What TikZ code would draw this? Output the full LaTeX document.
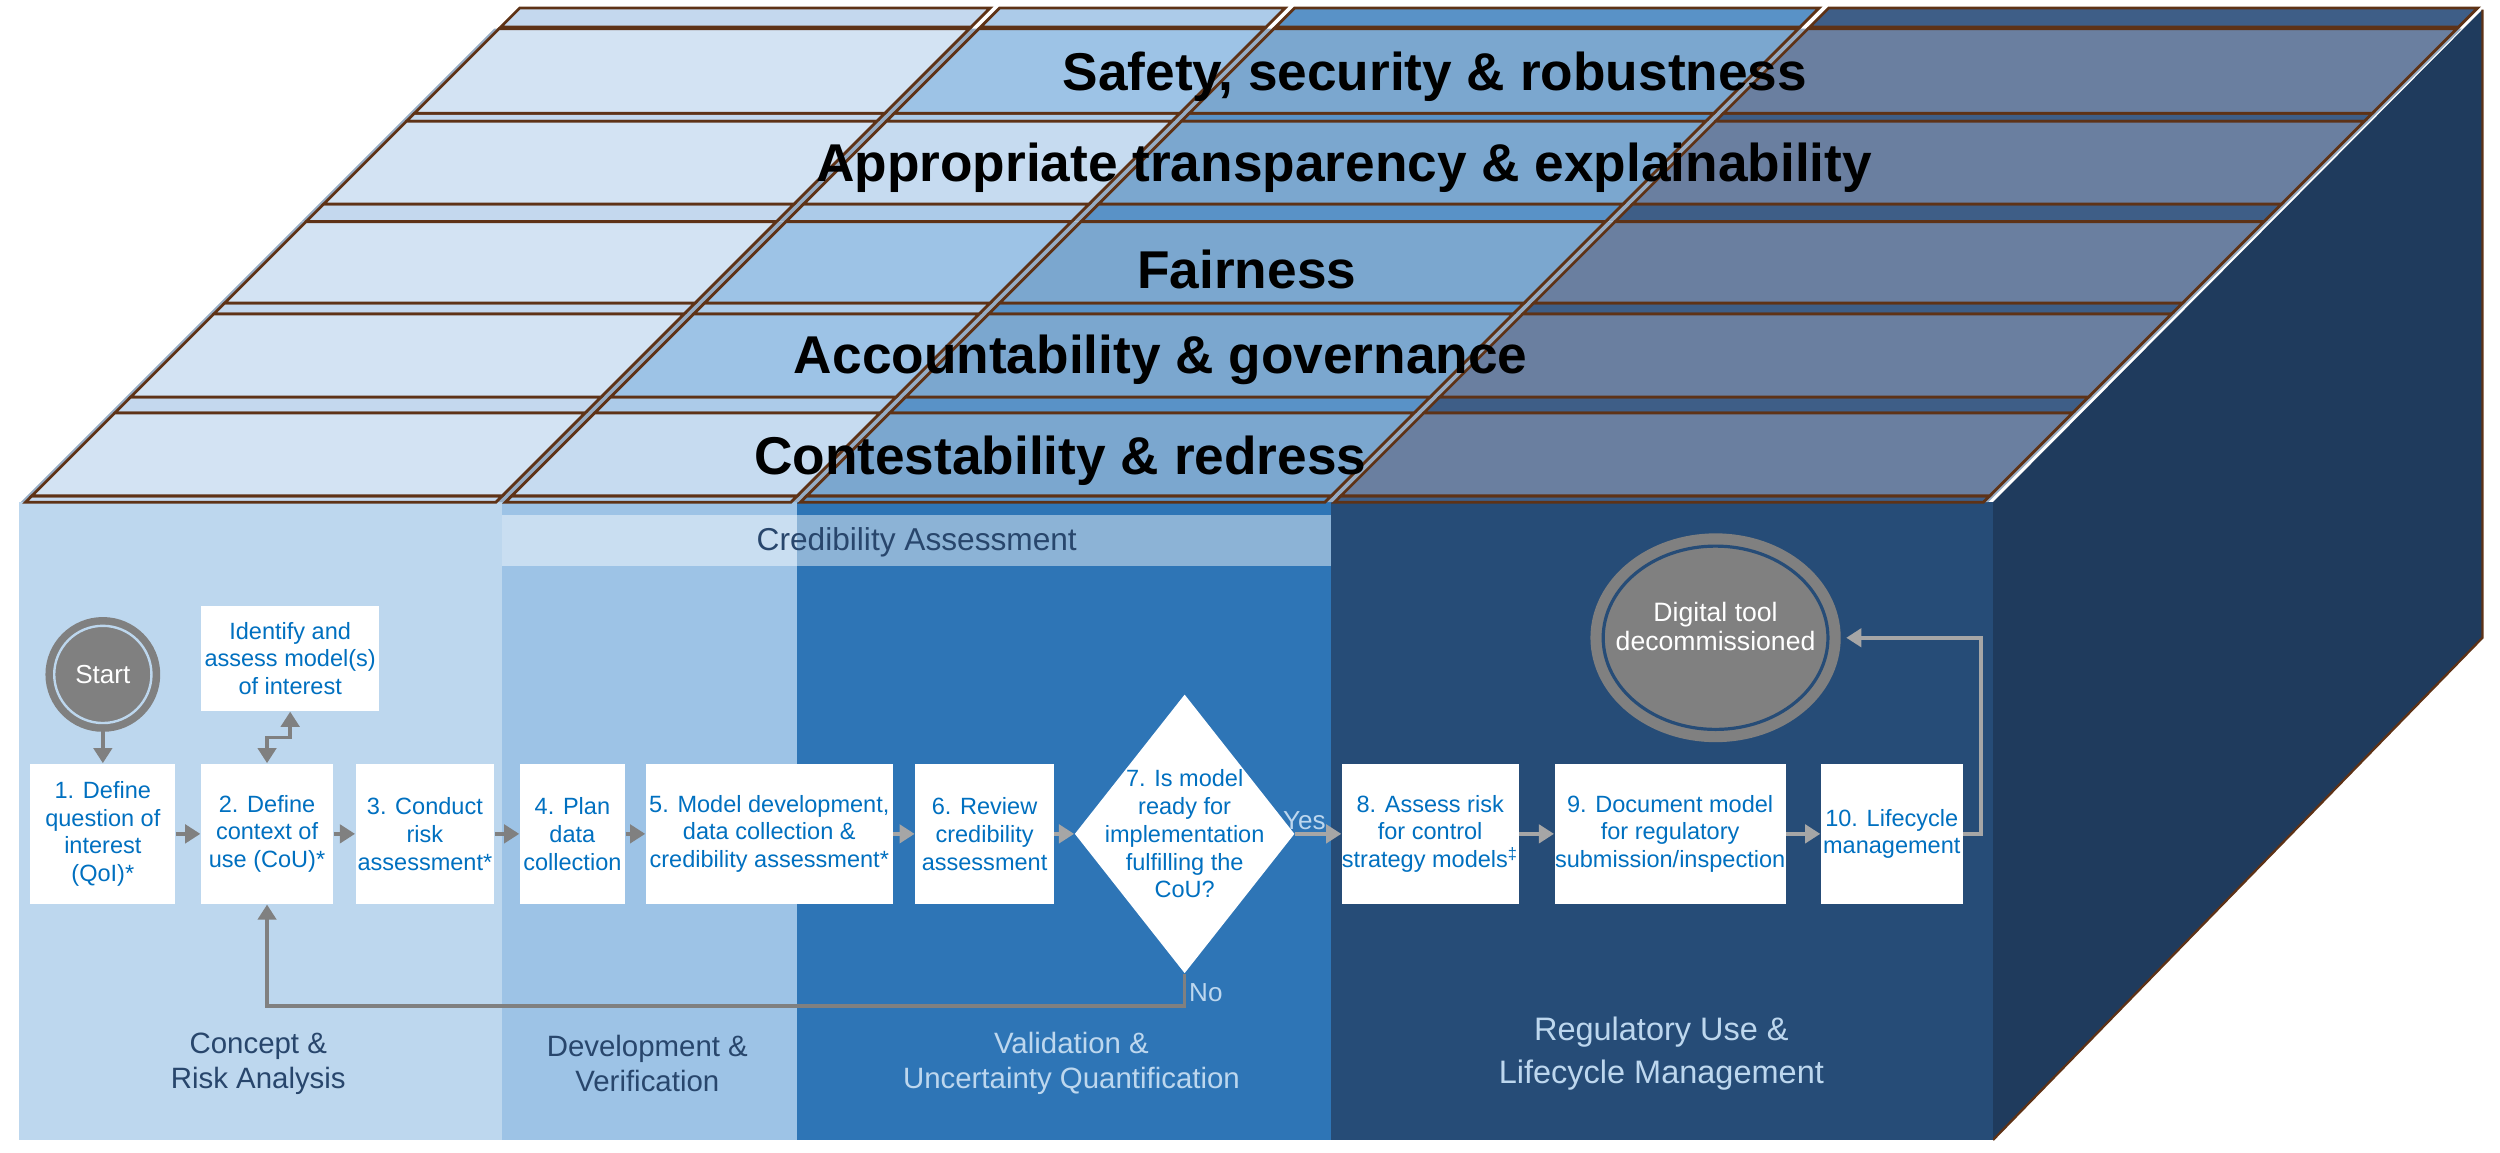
\documentclass[tikz,border=0pt]{standalone}
\usepackage{fontspec}
\setmainfont{Liberation Sans}
\usetikzlibrary{positioning,arrows.meta,shapes.geometric}

\definecolor{phaseA}{RGB}{189,215,238}
\definecolor{phaseB}{RGB}{157,195,230}
\definecolor{phaseC}{RGB}{46,117,182}
\definecolor{phaseD}{RGB}{38,76,119}
\definecolor{sideface}{RGB}{31,59,93}
\definecolor{slabedge}{RGB}{94,50,22}
\definecolor{slabgap}{RGB}{150,172,196}
\definecolor{topA}{RGB}{211,227,243}
\definecolor{topBl}{RGB}{198,219,240}
\definecolor{topB}{RGB}{157,195,230}
\definecolor{topC}{RGB}{123,167,207}
\definecolor{topD}{RGB}{106,127,160}
\definecolor{edgeA}{RGB}{196,216,238}
\definecolor{edgeB}{RGB}{172,203,233}
\definecolor{edgeC}{RGB}{89,146,199}
\definecolor{edgeD}{RGB}{62,94,135}
\definecolor{boxblue}{RGB}{0,112,192}
\definecolor{labeldark}{RGB}{40,70,108}
\definecolor{flowgray}{RGB}{128,128,128}
\definecolor{flowlight}{RGB}{166,166,166}

% one block of a pillar slab: front x from/to, y top, y bottom, fill
\newcommand{\slabcell}[5]{%
  \filldraw[fill=#5, draw=slabedge, line width=1pt]
    ({#1+311-#4},#4) -- ({#2+311-#4},#4) -- ({#2+311-#3},#3)
    -- ({#1+311-#3},#3) -- cycle;}

\begin{document}
\begin{tikzpicture}[
  x=0.02cm, y=-0.02cm,
  pillar/.style={font=\fontsize{19}{22}\selectfont\bfseries, inner sep=0pt},
  phase/.style={align=center, font=\fontsize{10.5}{12.5}\selectfont, inner sep=0pt},
  box/.style={fill=white, align=center, inner sep=0pt, text=boxblue,
              font=\fontsize{8.4}{9.9}\selectfont, minimum height=17.6mm},
  boxtext/.style={align=center, inner sep=0pt, text=boxblue,
                  font=\fontsize{8.4}{9.9}\selectfont},
  decision/.style={diamond, fill=white, inner sep=0pt,
                   minimum width=27.6mm, minimum height=35mm},
  terminal/.style={circle, fill=flowgray, draw=flowgray, line width=0.95mm,
                   double distance=0.3mm, inner sep=0pt, text=white,
                   font=\fontsize{9.3}{10.5}\selectfont},
  arrow/.style={-{Triangle[length=1.9mm,width=2.3mm]}, line width=0.45mm, draw=flowgray},
  arrowlt/.style={arrow, draw=flowlight},
  note/.style={text=phaseA, font=\fontsize{9.3}{10}\selectfont, inner sep=1pt},
]
\useasboundingbox (0,0) rectangle (1568,723);

% side of the box
\fill[sideface] (1250,315) -- (1250,715) -- (1557,400) -- (1557,6) -- cycle;
\draw[slabedge, line width=0.8pt] (1250,715) -- (1557,400) -- (1557,6);

% front face, one band per phase
\fill[phaseA] (12,315) rectangle (315,715);
\fill[phaseB] (315,315) rectangle (500,715);
\fill[phaseC] (500,315) rectangle (835,715);
\fill[phaseD] (835,315) rectangle (1250,715);

% pillar slabs on top
\foreach \yt/\yb/\ys/\ctwo in {18/71/76/topB, 76/128/139/topBl, 139/190/197/topB,
                               197/249/259/topB, 259/311/315/topBl}{
  \fill[slabgap] ({17+311-\ys},\ys) -- ({1251+311-\ys},\ys)
    -- ({1251+311-\yt},\yt) -- ({17+311-\yt},\yt) -- cycle;
  \foreach \xa/\xb/\cf/\cs in {17/318/topA/edgeA, 318/503/\ctwo/edgeB,
                               503/838/topC/edgeC, 838/1251/topD/edgeD}{
    \slabcell{\xa+3}{\xb-3}{\yb}{\ys}{\cs}
    \slabcell{\xa+3}{\xb-3}{\yt}{\yb}{\cf}
  }
}
% back strip
\foreach \xa/\xb/\cs in {17/318/edgeA, 318/503/edgeB, 503/838/edgeC, 838/1251/edgeD}{
  \slabcell{\xa+3}{\xb-3}{5}{17}{\cs}
}

% Pillars
\node[pillar] (psafety)  at (900,48)  {Safety, security \& robustness};
\node[pillar] (ptransp)  at (843,105) {Appropriate transparency \& explainability};
\node[pillar] (pfair)    at (782,169) {Fairness};
\node[pillar] (paccount) at (728,226) {Accountability \& governance};
\node[pillar] (pcontest) at (665,289) {Contestability \& redress};

% Credibility band
\fill[white, opacity=0.45] (315,323) rectangle (835,355);
\node[phase, text=labeldark, font=\fontsize{11.3}{13}\selectfont] (cred) at (575,340) {Credibility Assessment};

% Phases
\node[phase, text=labeldark] (ph1) at (162,667)  {Concept \&\\Risk Analysis};
\node[phase, text=labeldark] (ph2) at (406,667)  {Development \&\\Verification};
\node[phase, text=phaseA]    (ph3) at (672,667)  {Validation \&\\Uncertainty Quantification};
\node[phase, text=phaseA, font=\fontsize{11.6}{15.4}\selectfont] (ph4) at (1042,661)
  {Regulatory Use \&\\Lifecycle Management};

% Steps
\node[box, minimum width=18.2mm] (b1)  at (64.5,523)  {1. Define\\question of\\interest\\(QoI)*};
\node[box, minimum width=16.6mm] (b2)  at (167.5,523) {2. Define\\context of\\use (CoU)*};
\node[box, minimum width=17.4mm] (b3)  at (266.5,523) {3. Conduct\\risk\\assessment*};
\node[box, minimum width=13.2mm] (b4)  at (359,523)   {4. Plan\\data\\collection};
\node[box, minimum width=31mm]   (b5)  at (482.5,523) {5. Model development,\\data collection \&\\credibility assessment*};
\node[box, minimum width=17.4mm] (b6)  at (617.5,523) {6. Review\\credibility\\assessment};
\node[decision] (d7) at (743,523) {};
\node[boxtext] (d7txt) at (d7) {7. Is model\\ready for\\implementation\\fulfilling the\\CoU?};
\node[box, minimum width=21.2mm] (b8)  at (897,523)    {8. Assess risk\\for control\\strategy models\textsuperscript{‡}};
\node[box, minimum width=29mm]   (b9)  at (1047.5,523) {9. Document model\\for regulatory\\submission/inspection};
\node[box, minimum width=17.8mm] (b10) at (1186.5,523) {10. Lifecycle\\management};

\node[box, minimum width=22.4mm, minimum height=13.2mm] (ident) at (182,413) {Identify and\\assess model(s)\\of interest};
\node[terminal, double=phaseA, minimum size=12.2mm] (start) at (64.5,423) {Start};
\node[terminal, ellipse, double=phaseD, line width=1.4mm, double distance=0.4mm,
      minimum width=28.2mm, minimum height=23mm] (dig) at (1076,400) {};
\node[text=white, align=center, font=\fontsize{9.5}{10.5}\selectfont, yshift=1.4mm] (digtxt) at (dig) {Digital tool\\decommissioned};

% Flows
\draw[arrow] (start.south) -- (b1);
\draw[arrow] (b1) -- (b2);
\draw[arrow] (b2) -- (b3);
\draw[arrow] (b3) -- (b4);
\draw[arrow] (b4) -- (b5);
\draw[arrowlt] (b5) -- (b6);
\draw[arrowlt] (b6) -- (d7);
\draw[arrowlt] (d7) -- node[note, above, pos=0.2] {Yes} (b8);
\draw[arrowlt] (b8) -- (b9);
\draw[arrowlt] (b9) -- (b10);
\draw[arrowlt, shorten >=1.6mm] (b10.east) -- ++(11,0) |- (dig.east);
\draw[arrow, {Triangle[length=1.9mm,width=2.3mm]}-{Triangle[length=1.9mm,width=2.3mm]}]
  (b2.north) -- ++(0,-16) -| (ident.south);
\draw[arrow] (d7.south) -- ++(0,20) node[note, right, pos=0.6] {No} -| (b2.south);
\end{tikzpicture}
\end{document}
